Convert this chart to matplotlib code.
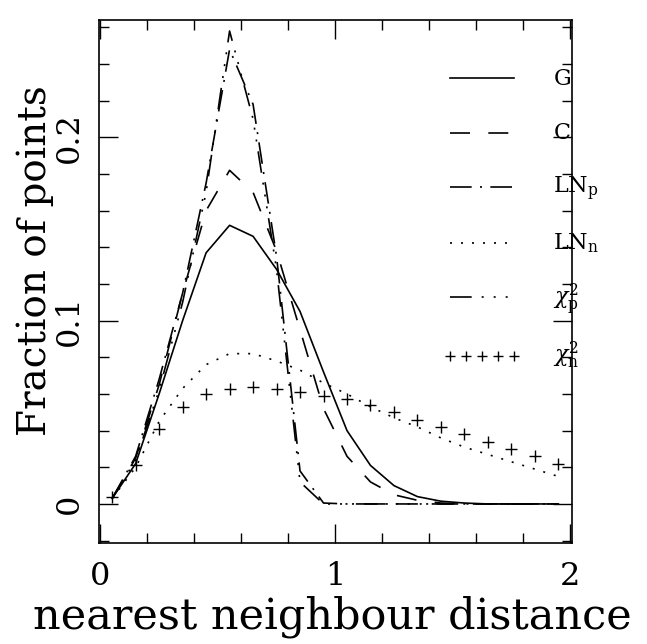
import numpy as np
import matplotlib
matplotlib.use("Agg")
import matplotlib.pyplot as plt
from matplotlib.ticker import MultipleLocator
from matplotlib.lines import Line2D
from matplotlib.legend_handler import HandlerLine2D

plt.rcParams["font.family"] = "DejaVu Serif"
plt.rcParams["mathtext.fontset"] = "dejavuserif"

# bin centres of the nearest neighbour distance histogram
dist = [0.05, 0.15, 0.25, 0.35, 0.45, 0.55, 0.65, 0.75, 0.85, 0.95,
        1.05, 1.15, 1.25, 1.35, 1.45, 1.55, 1.65, 1.75, 1.85, 1.95]

frac_G = [0.003, 0.022, 0.060, 0.100, 0.137, 0.152, 0.146, 0.128, 0.105, 0.072,
          0.040, 0.021, 0.010, 0.004, 0.0015, 0.0005, 0.0, 0.0, 0.0, 0.0]
frac_C = [0.003, 0.025, 0.065, 0.115, 0.160, 0.182, 0.170, 0.138, 0.095, 0.052,
          0.026, 0.012, 0.005, 0.002, 0.0005, 0.0, 0.0, 0.0, 0.0, 0.0]
frac_LNp = [0.003, 0.026, 0.068, 0.115, 0.175, 0.248, 0.218, 0.135, 0.018, 0.0005,
            0.0, 0.0, 0.0, 0.0, 0.0, 0.0, 0.0, 0.0, 0.0, 0.0]
frac_LNn = [0.003, 0.020, 0.045, 0.063, 0.076, 0.082, 0.082, 0.078, 0.073, 0.066,
            0.060, 0.053, 0.047, 0.042, 0.036, 0.031, 0.027, 0.023, 0.019, 0.015]
frac_chip = [0.003, 0.024, 0.062, 0.110, 0.170, 0.258, 0.210, 0.128, 0.012, 0.0,
             0.0, 0.0, 0.0, 0.0, 0.0, 0.0, 0.0, 0.0, 0.0, 0.0]
frac_chin = [0.004, 0.021, 0.041, 0.053, 0.060, 0.0625, 0.064, 0.0625, 0.061, 0.059,
             0.057, 0.054, 0.050, 0.046, 0.042, 0.038, 0.034, 0.030, 0.026, 0.022]

labels = ["G", "C", r"LN$_\mathrm{p}$", r"LN$_\mathrm{n}$",
          r"$\chi^2_\mathrm{p}$", r"$\chi^2_\mathrm{n}$"]


class ShiftedLine(HandlerLine2D):
    # legend handle drawn a bit lower so it sits at mid height of the label
    def create_artists(self, legend, orig_handle, xdescent, ydescent,
                       width, height, fontsize, trans):
        arts = super().create_artists(legend, orig_handle, xdescent, ydescent,
                                      width, height, fontsize, trans)
        for a in arts:
            a.set_ydata(np.asarray(a.get_ydata()) - 3.6)
        return arts


fig = plt.figure(figsize=(6.47, 6.44), dpi=100)
ax = fig.add_axes([99 / 647, 1 - 543 / 644, 473 / 647, 523 / 644])

lw = 1.2
ax.plot(dist, frac_G, color="k", lw=lw, label=labels[0])
ax.plot(dist, frac_C, color="k", lw=lw, dashes=(12, 11), label=labels[1])
ax.plot(dist, frac_LNp, color="k", lw=lw, dashes=(13, 5, 1.2, 5), label=labels[2])
ax.plot(dist, frac_LNn, color="k", lw=lw, dashes=(1.2, 5.4), label=labels[3])
ax.plot(dist, frac_chip, color="k", lw=lw,
        dashes=(13, 6, 1.2, 6, 1.2, 6, 1.2, 6), label=labels[4])
ax.plot(dist, frac_chin, color="k", lw=0, marker="+", ms=8, mew=1.0,
        label=labels[5])

ax.set_xlim(-0.006, 2.008)
ax.set_ylim(-0.0213, 0.2640)

ax.xaxis.set_major_locator(MultipleLocator(1))
ax.xaxis.set_minor_locator(MultipleLocator(0.2))
ax.yaxis.set_major_locator(MultipleLocator(0.1))
ax.yaxis.set_minor_locator(MultipleLocator(0.02))
ax.xaxis.set_major_formatter(plt.FuncFormatter(lambda v, p: "%g" % v))
ax.yaxis.set_major_formatter(plt.FuncFormatter(lambda v, p: "%g" % v))

ax.tick_params(which="both", direction="in", top=True, right=True,
               width=1.0, labelsize=23)
ax.tick_params(which="major", length=14)
ax.tick_params(which="minor", length=7)
ax.tick_params(axis="x", pad=13)
ax.tick_params(axis="y", pad=10)
for lab in ax.get_yticklabels():
    lab.set_rotation(90)
    lab.set_va("center")
for sp in ax.spines.values():
    sp.set_linewidth(1.2)

ax.set_xlabel("nearest neighbour distance", fontsize=31, va="center")
ax.xaxis.set_label_coords(0.493, -0.1415)
ax.set_ylabel("Fraction of points", fontsize=28, va="center")
ax.yaxis.set_label_coords(-0.135, 0.54)

leg = ax.legend(loc="upper left", bbox_to_anchor=(1.46, 0.2413),
                bbox_transform=ax.transData, frameon=False, fontsize=16,
                handlelength=3.5, handleheight=1.8, handletextpad=1.45,
                labelspacing=1.04, borderpad=0, borderaxespad=0,
                numpoints=5, markerscale=0.85,
                handler_map={Line2D: ShiftedLine()})

fig.savefig("out.png", dpi=100)
